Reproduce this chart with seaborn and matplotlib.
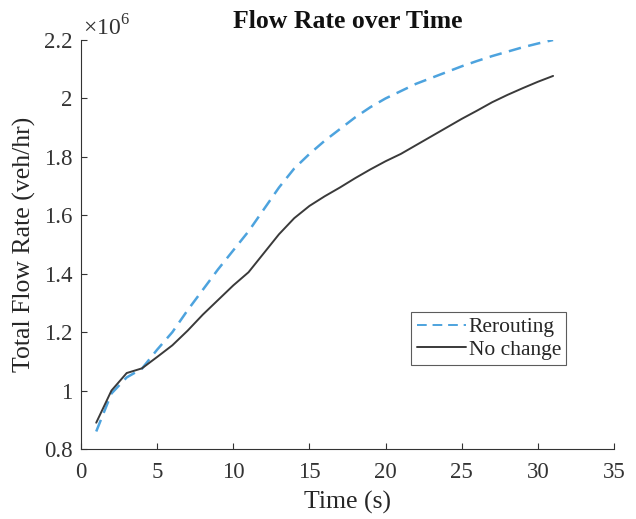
import matplotlib
matplotlib.use("Agg")
import matplotlib.pyplot as plt
from matplotlib.lines import Line2D
import seaborn as sns
import pandas as pd

time_s = list(range(1, 32))
rerouting = [0.86, 0.99, 1.045, 1.075, 1.14, 1.20, 1.275, 1.345, 1.415, 1.48,
             1.545, 1.62, 1.695, 1.76, 1.81, 1.855, 1.895, 1.935, 1.97, 2.0,
             2.025, 2.05, 2.07, 2.09, 2.11, 2.128, 2.145, 2.16, 2.175, 2.188, 2.20]
no_change = [0.89, 1.0, 1.06, 1.076, 1.115, 1.155, 1.205, 1.26, 1.31, 1.36,
             1.405, 1.47, 1.535, 1.59, 1.632, 1.665, 1.695, 1.727, 1.757, 1.785,
             1.81, 1.84, 1.87, 1.90, 1.93, 1.958, 1.987, 2.012, 2.035, 2.057, 2.077]
series_names = ["Rerouting", "No change"]
x_ticks = [0, 5, 10, 15, 20, 25, 30, 35]
y_ticks = [0.8, 1.0, 1.2, 1.4, 1.6, 1.8, 2.0, 2.2]
y_tick_labels = ["0.8", "1", "1.2", "1.4", "1.6", "1.8", "2", "2.2"]

df = pd.DataFrame({
    "Time": time_s * 2,
    "Flow": rerouting + no_change,
    "Series": [series_names[0]] * len(time_s) + [series_names[1]] * len(time_s),
})

sns.set_theme(style="ticks")
plt.rcParams["font.family"] = ["Liberation Serif", "DejaVu Serif"]
plt.rcParams["mathtext.fontset"] = "custom"
plt.rcParams["mathtext.rm"] = "Liberation Serif"

fig = plt.figure(figsize=(6.36, 5.19), dpi=100)
ax = fig.add_axes([81 / 636, 1 - 449 / 519, (614 - 81) / 636, (449 - 40) / 519])

sns.lineplot(data=df, x="Time", y="Flow", hue="Series", style="Series",
             palette={"Rerouting": "#4DA3DE", "No change": "#3a3a3a"},
             dashes={"Rerouting": (5, 3), "No change": ""},
             ax=ax, legend=False)
lines = ax.get_lines()
lines[0].set_linewidth(1.8)
lines[1].set_linewidth(1.4)

ax.set_xlim(0, 35)
ax.set_ylim(0.8, 2.2)
ax.set_xticks(x_ticks)
ax.set_yticks(y_ticks)
ax.set_yticklabels(y_tick_labels)
ax.tick_params(direction="in", length=4, width=0.8, labelsize=16.5, colors="#333333", pad=6)
ax.tick_params(axis="x", pad=9)
for s in ["top", "right"]:
    ax.spines[s].set_visible(False)
for s in ["left", "bottom"]:
    ax.spines[s].set_color("#333333")
    ax.spines[s].set_linewidth(0.8)

ax.set_xlabel("Time (s)", fontsize=18.5, color="#262626", labelpad=6)
ax.set_ylabel("Total Flow Rate (veh/hr)", fontsize=18.5, color="#262626", labelpad=6)
ax.set_title("Flow Rate over Time", fontsize=18.5, fontweight="bold", color="#111111", pad=9)
ax.text(0.003, 1.0, "×10$^{6}$", transform=ax.transAxes, fontsize=17,
        color="#333333", ha="left", va="bottom")

handles = [Line2D([], [], color="#4DA3DE", lw=1.4, ls=(0, (5, 3))),
           Line2D([], [], color="#3a3a3a", lw=1.4)]
leg = ax.legend(handles, series_names, loc="upper left", bbox_to_anchor=(0.62, 0.335),
                fontsize=15.5, frameon=True, fancybox=False, edgecolor="#333333",
                handlelength=2.3, handletextpad=0.1, borderpad=0.25, labelspacing=0.1,
                borderaxespad=0)
leg.get_frame().set_linewidth(0.8)

fig.savefig("out.png", dpi=100)
